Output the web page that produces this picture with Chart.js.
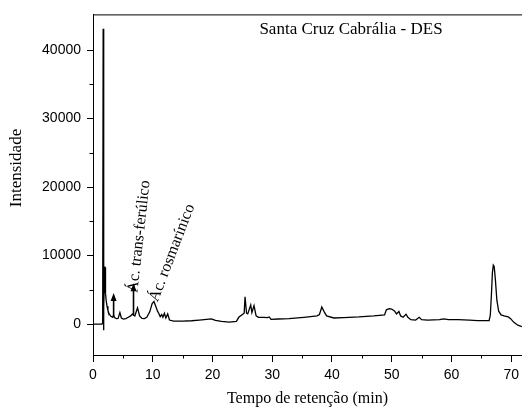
<!DOCTYPE html>
<html>
<head>
<meta charset="utf-8">
<script src="https://cdn.jsdelivr.net/npm/chart.js@4"></script>
<style>
  html, body { margin: 0; padding: 0; background: #fff; }
  #wrap { width: 524px; height: 412px; }
</style>
</head>
<body>
<div id="wrap"><canvas id="chrom" width="524" height="412"></canvas></div>
<script>
// retention time (min) and intensity
const times = [0, 1.5, 1.62, 1.7, 1.76, 1.82, 1.9, 1.97, 2.02, 2.07, 2.12, 2.2, 2.35, 2.5, 2.7, 3.0, 3.3, 3.45, 3.6, 3.9,
  4.2, 4.5, 4.75, 5.1, 5.5, 5.9, 6.3, 6.6, 6.8, 7.0, 7.45, 7.8, 8.2, 8.6, 9.0, 9.5, 9.9, 10.2, 10.5, 10.8,
  11.0, 11.25, 11.5, 11.7, 11.95, 12.2, 12.5, 12.8, 13.5, 15, 16.5, 17.8, 19, 19.8, 20.5, 21.5, 22.8, 24.0, 24.4, 25.0,
  25.3, 25.45, 25.7, 25.9, 26.4, 26.6, 26.95, 27.3, 27.7, 28.6, 29.2, 29.5, 29.8, 31, 32.8, 35.3, 37.5, 37.9, 38.3, 38.7,
  39.1, 40.3, 42, 44.5, 47, 48.8, 49.1, 49.6, 50.0, 50.5, 50.8, 51.2, 51.5, 51.9, 52.4, 52.7, 53.2, 54.0, 54.6, 55.0,
  56, 58, 58.7, 59.5, 61.1, 63, 64.4, 66.3, 66.5, 66.7, 66.85, 67.0, 67.15, 67.35, 67.6, 67.9, 68.3, 68.8, 69.5, 69.9,
  70.4, 71.1, 71.8];
const intensity = [0, 0, 200, 43100, -900, 2500, 6000, 8400, 5000, 8300, 4500, 3500, 2600, 2000, 1500, 1150, 1000, 1300, 950, 800,
  850, 1700, 900, 750, 800, 1000, 1200, 1500, 1300, 1200, 2400, 1200, 850, 800, 1000, 1800, 3000, 3300, 2600, 1900,
  1600, 1100, 1400, 1000, 1600, 900, 1500, 600, 450, 450, 500, 600, 700, 780, 550, 400, 300, 400, 1000, 1400,
  1600, 4000, 1600, 1500, 2800, 1700, 2700, 1200, 1000, 1000, 950, 1050, 700, 750, 800, 1000, 1200, 1400, 2500, 1800,
  1200, 900, 950, 1050, 1200, 1350, 2100, 2250, 2200, 1900, 1500, 1850, 1200, 1000, 1450, 1000, 650, 600, 1000, 650,
  580, 650, 780, 650, 670, 600, 530, 520, 1300, 4500, 7500, 8600, 8400, 6500, 3500, 1900, 1350, 1200, 1050, 800,
  300, -150, -350];

const xTicks = [0, 10, 20, 30, 40, 50, 60, 70];
const xMinor = [5, 15, 25, 35, 45, 55, 65];
const yTicks = [0, 10000, 20000, 30000, 40000];
const yMinor = [5000, 15000, 25000, 35000];

// peak arrows: time, tail, tip
const arrowTimes = [3.45, 6.78];
const arrowFrom = [1100, 1250];
const arrowTo = [4540, 5970];

// rotated peak labels
const peakLabels = ['Ác. trans-ferúlico', 'Ác. rosmarínico'];
const labelTimes = [7.75, 13.24];
const labelValues = [12790, 10390];
const labelAngles = [-83.7, -69];

const serif = '"Liberation Serif", "Times New Roman", serif';
const sans = '"Liberation Sans", Arial, sans-serif';

const extras = {
  id: 'extras',
  afterDraw(chart) {
    const { ctx, chartArea: a, scales: { x, y } } = chart;
    ctx.save();
    ctx.strokeStyle = '#000';
    ctx.fillStyle = '#000';
    ctx.lineWidth = 1;

    // top frame line
    ctx.beginPath();
    ctx.moveTo(a.left, a.top + 0.5);
    ctx.lineTo(a.right, a.top + 0.5);
    ctx.stroke();

    // minor ticks
    ctx.beginPath();
    xMinor.forEach(v => {
      const px = Math.round(x.getPixelForValue(v)) + 0.5;
      ctx.moveTo(px, a.bottom);
      ctx.lineTo(px, a.bottom + 3.5);
    });
    yMinor.forEach(v => {
      const py = Math.round(y.getPixelForValue(v)) + 0.5;
      ctx.moveTo(a.left, py);
      ctx.lineTo(a.left - 3.5, py);
    });
    ctx.stroke();

    // arrows
    ctx.lineWidth = 1.6;
    arrowTimes.forEach((t, i) => {
      const px = x.getPixelForValue(t);
      const p0 = y.getPixelForValue(arrowFrom[i]);
      const p1 = y.getPixelForValue(arrowTo[i]);
      ctx.beginPath();
      ctx.moveTo(px, p0);
      ctx.lineTo(px, p1 + 6);
      ctx.stroke();
      ctx.beginPath();
      ctx.moveTo(px, p1);
      ctx.lineTo(px - 3, p1 + 8);
      ctx.lineTo(px + 3, p1 + 8);
      ctx.closePath();
      ctx.fill();
    });

    // peak labels
    ctx.font = '16px ' + serif;
    ctx.textAlign = 'center';
    ctx.textBaseline = 'middle';
    peakLabels.forEach((txt, i) => {
      ctx.save();
      ctx.translate(x.getPixelForValue(labelTimes[i]), y.getPixelForValue(labelValues[i]));
      ctx.rotate(labelAngles[i] * Math.PI / 180);
      ctx.fillText(txt, 0, 0);
      ctx.restore();
    });

    // chart title
    ctx.font = '17px ' + serif;
    ctx.fillText('Santa Cruz Cabrália - DES', 351, 30);

    // y axis title
    ctx.save();
    ctx.translate(17, 168);
    ctx.rotate(-Math.PI / 2);
    ctx.font = '17px ' + serif;
    ctx.fillText('Intensidade', 0, 0);
    ctx.restore();

    ctx.restore();
  }
};

new Chart(document.getElementById('chrom'), {
  type: 'line',
  data: {
    datasets: [{
      data: times.map((t, i) => ({ x: t, y: intensity[i] })),
      borderColor: '#000',
      borderWidth: 1.3,
      pointRadius: 0,
      tension: 0,
      fill: false
    }]
  },
  options: {
    responsive: false,
    animation: false,
    layout: { padding: { top: 7, right: 0, left: 0, bottom: 0 } },
    plugins: { legend: { display: false }, tooltip: { enabled: false } },
    scales: {
      x: {
        type: 'linear',
        min: 0,
        max: 71.8,
        afterBuildTicks: s => { s.ticks = xTicks.map(v => ({ value: v })); },
        afterFit: s => { s.height = 57; },
        grid: { drawOnChartArea: false, drawTicks: true, tickLength: 7, color: '#000' },
        border: { display: true, color: '#000', width: 1 },
        ticks: { padding: 5, color: '#000', maxRotation: 0, autoSkip: false, font: { family: sans, size: 14 } },
        title: { display: true, text: 'Tempo de retenção (min)', color: '#000', font: { family: serif, size: 16 }, padding: { top: 0, bottom: 4 } }
      },
      y: {
        min: -4500,
        max: 45200,
        afterBuildTicks: s => { s.ticks = yTicks.map(v => ({ value: v })); },
        afterFit: s => { s.width = 93; },
        grid: { drawOnChartArea: false, drawTicks: true, tickLength: 6, color: '#000' },
        border: { display: true, color: '#000', width: 1 },
        ticks: { padding: 6, color: '#000', autoSkip: false, font: { family: sans, size: 14 }, callback: v => String(v) }
      }
    }
  },
  plugins: [extras]
});
</script>
</body>
</html>
